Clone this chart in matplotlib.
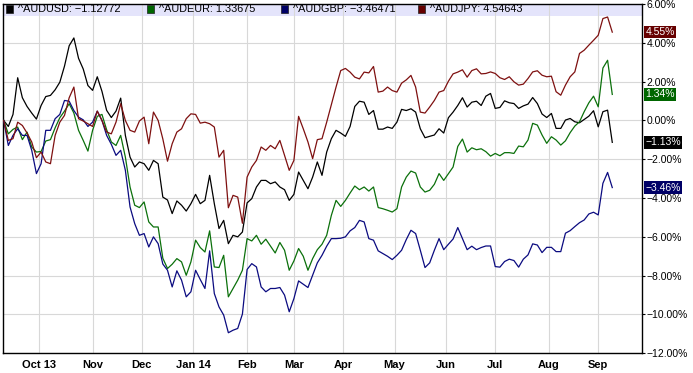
import matplotlib
matplotlib.use("Agg")
import matplotlib.pyplot as plt
import matplotlib.transforms as mtransforms
from matplotlib.patches import Rectangle
import numpy as np
import pandas as pd

plt.rcParams['font.family'] = ['Liberation Sans', 'DejaVu Sans']

# ---------------- data (percent change, sampled every 2 trading days) ----------------
start_date = '2013-09-10'
n_days = 261
step = 2

audusd = [0.00, -0.31, 0.31, 2.20, 1.17, 0.72, 0.38, 0.07, 0.77, 1.23, 1.29, 1.58, 1.97, 2.80, 3.85,
          4.25, 3.20, 2.65, 1.80, 1.55, 2.25, 1.50, 0.52, 0.15, 0.48, 1.15, -0.77, -1.89, -2.40, -2.14,
          -2.23, -2.57, -2.06, -2.23, -3.95,
          -4.10, -4.80, -4.15, -4.37, -4.67, -4.29, -3.81, -4.29, -4.12, -2.83, -4.29, -5.57, -5.15,
          -6.35, -5.92, -6.00, -5.75, -4.25, -4.03, -3.43, -3.09, -3.09, -3.26, -3.17, -3.43, -3.57,
          -4.12, -3.81, -2.66, -3.09, -3.52, -2.92, -2.14, -2.83,
          -1.63, -0.94, -0.51, -0.65, -0.82, -0.31, 0.72, 0.99, 0.94, 0.31, 0.51, -0.45, -0.45, -0.34,
          -0.41, -0.09, 0.57, 0.51, 0.60, 0.43, -0.43, -0.89, -0.82, -0.75, -0.43, -0.65, 0.14, 0.43,
          0.77, 1.17, 0.69, 0.94, 0.99, 0.77,
          1.25, 1.39, 0.62, 0.67, 1.01, 0.91, 0.87, 0.62, 0.75, 0.84, 1.18, 0.87, 0.33, 0.15, 0.36,
          -0.41, -0.41, 0.02, 0.10, -0.07, -0.12, 0.05, 0.22, 0.50, -0.33, 0.45, 0.53, -1.13]

audeur = [0.00, -0.69, -0.46, -0.34, -0.99, -0.60, -1.37, -1.63, -1.60, -1.06, -0.99, -0.38, 0.14,
          0.48, 0.86, 0.38, -0.51, -1.03, -1.58, -0.51, 0.21, 0.31, -0.48, -1.11, -1.29, -0.77, -1.89,
          -3.43, -4.37, -4.49, -4.20, -5.23, -5.49, -5.49, -7.10,
          -7.63, -7.41, -7.12, -7.29, -7.98, -7.29, -6.17, -6.55, -6.78, -5.69, -7.55, -7.58, -6.95,
          -9.09, -8.66, -8.23, -7.72, -6.09, -6.21, -5.92, -6.38, -6.12, -6.48, -6.83, -6.29, -6.69,
          -7.72, -7.24, -6.60, -7.00, -7.72, -7.12, -6.66, -6.38,
          -5.92, -4.89, -4.12, -4.43, -4.12, -3.74, -3.38, -3.57, -3.43, -3.64, -3.43, -4.49, -4.55,
          -4.63, -4.72, -4.55, -3.43, -2.92, -2.61, -2.71, -3.43, -3.69, -3.60, -3.29, -2.74, -3.09,
          -2.74, -2.40, -1.34, -0.96, -1.63, -1.41, -1.51, -1.46,
          -1.61, -1.84, -1.70, -1.82, -1.66, -1.66, -1.70, -1.32, -1.36, -1.01, -0.15, -0.24, -0.75,
          -1.18, -0.84, -1.01, -1.27, -1.05, -0.63, -0.29, -0.07, 0.45, 0.91, 1.25, 0.70, 2.70, 3.10, 1.34]

audgbp = [0.00, -1.29, -0.77, -0.43, -0.77, -0.77, -1.54, -2.74, -2.23, -0.51, -0.51, 0.09, 0.31,
          1.03, 0.99, 0.51, 0.17, 0.03, -0.31, -0.09, 0.48, 0.00, -0.77, -1.23, -1.80, -1.54, -2.57,
          -4.46, -5.32, -5.92, -5.83, -6.52, -6.00, -6.35, -7.40,
          -7.72, -8.58, -7.75, -8.23, -9.09, -8.83, -7.72, -8.20, -8.66, -6.72, -8.92, -9.61, -10.03,
          -10.94, -10.81, -10.72, -9.98, -7.68, -7.38, -7.55, -8.58, -8.83, -8.66, -8.66, -8.61, -9.00,
          -9.86, -9.18, -8.27, -8.44, -8.61, -7.98, -7.34, -6.95,
          -6.48, -6.09, -6.09, -6.07, -6.00, -5.69, -5.52, -5.15, -5.23, -6.09, -6.17, -6.72, -6.86,
          -7.00, -7.17, -6.95, -6.69, -6.14, -5.66, -5.83, -6.69, -7.58, -7.34, -6.69, -6.09, -6.66,
          -6.38, -6.11, -5.52, -6.09, -6.66, -6.48, -6.66, -6.55,
          -6.47, -6.47, -7.53, -7.56, -7.27, -7.15, -7.22, -7.56, -7.15, -6.93, -6.36, -6.42, -6.81,
          -6.54, -6.54, -6.76, -6.76, -5.81, -5.68, -5.47, -5.27, -5.13, -4.82, -4.73, -4.87, -3.24,
          -2.68, -3.46]

audjpy = [0.00, -1.03, -0.94, -0.09, -0.26, -0.65, -1.11, -1.92, -1.63, -2.14, -2.23, -0.77, -0.09,
          0.26, 1.17, 1.72, 0.09, -0.03, -0.17, -0.31, 0.48, 0.00, -0.60, -0.69, -0.09, 0.86, 0.00,
          -0.51, -0.60, -0.03, 0.17, -1.20, 0.43, 0.00, -0.95,
          -2.10, -1.20, -0.60, -0.43, 0.09, 0.34, 0.31, -0.14, -0.09, -0.17, -0.34, -1.89, -1.54,
          -4.50, -3.86, -3.95, -5.30, -2.92, -2.40, -2.06, -1.37, -1.54, -1.29, -1.46, -1.03, -1.80,
          -2.57, -2.06, 0.21, -0.43, -1.11, -1.97, -0.99, -0.94,
          -0.09, 0.82, 1.72, 2.57, 2.68, 2.49, 2.23, 2.14, 2.49, 2.45, 2.78, 1.46, 1.51, 1.72, 1.54,
          1.46, 1.92, 2.09, 2.32, 1.72, 0.43, 0.38, 0.69, 1.03, 1.46, 1.54, 2.02, 2.40, 2.49, 2.61,
          2.23, 2.57, 2.66, 2.40,
          2.42, 2.50, 2.42, 2.20, 2.11, 2.25, 1.99, 1.82, 1.87, 2.16, 2.50, 2.56, 2.33, 2.25, 2.28,
          1.48, 1.30, 1.82, 2.25, 2.50, 3.45, 3.62, 3.88, 4.13, 4.39, 5.25, 5.33, 4.55]

symbols = ['^AUDUSD', '^AUDEUR', '^AUDGBP', '^AUDJPY']
legend_values = [-1.12772, 1.33675, -3.46471, 4.54643]
series = [audusd, audeur, audgbp, audjpy]
line_colors = ['#000000', '#0b700b', '#0b0b80', '#7e1010']
box_colors = ['#000000', '#006600', '#000066', '#660000']

month_labels = ['Oct 13', 'Nov', 'Dec', 'Jan 14', 'Feb', 'Mar', 'Apr', 'May', 'Jun', 'Jul', 'Aug', 'Sep']
y_ticks = [-12, -10, -8, -6, -4, -2, 0, 2, 4, 6]


def fmt_pct(v):
    s = f"{v:.2f}%"
    return s.replace('-', '\u2212')


def fmt_num(v):
    return f"{v}".replace('-', '\u2212')


# ---------------- figure ----------------
W, H = 693, 373
fig = plt.figure(figsize=(W / 100, H / 100), dpi=100)
ax_left, ax_right, ax_top, ax_bottom = 2.7, 642.0, 4.0, 353.3
ax = fig.add_axes([ax_left / W, 1 - ax_bottom / H, (ax_right - ax_left) / W, (ax_bottom - ax_top) / H])

days = pd.bdate_range(start_date, periods=n_days)
x_all = np.arange(n_days)
x = x_all[::step][:len(audusd)]

# month ticks: first business day of each month
month_start_idx = [i for i in range(1, n_days) if days[i].month != days[i - 1].month]
month_start_idx = month_start_idx[:len(month_labels)]

ax.set_ylim(-12, 6)
ax.set_xlim(-0.4, 272.7)

# legend band at top
band_h = 11.7 / (ax_bottom - ax_top)
ax.add_patch(Rectangle((0, 1 - band_h), 1, band_h,
                       transform=ax.transAxes, facecolor='#e4e4fb', edgecolor='none', zorder=0.2))

ax.set_axisbelow(True)
ax.grid(True, color='#d8d8d8', linewidth=0.8)

for vals, c in zip(series, line_colors):
    ax.plot(x, vals, color=c, linewidth=0.9, zorder=3)

ax.set_xticks(month_start_idx)
ax.set_xticklabels(month_labels, fontweight='bold', fontsize=8)
ax.tick_params(axis='x', length=0, pad=4.5)

ax.yaxis.tick_right()
ax.set_yticks(y_ticks)
ax.set_yticklabels([fmt_pct(v) for v in y_ticks], fontsize=7.5)
ax.tick_params(axis='y', length=2.5, width=0.8, pad=1.0, direction='out')

for sp in ax.spines.values():
    sp.set_color('black')
    sp.set_linewidth(1.0)

# last-value boxes on the right
trans = mtransforms.blended_transform_factory(ax.transAxes, ax.transData)
for vals, bc in zip(series, box_colors):
    ax.text(1.0055, vals[-1], fmt_pct(vals[-1]), transform=trans, ha='left', va='center',
            fontsize=7.5, color='white', clip_on=False,
            bbox=dict(boxstyle='square,pad=0.12', facecolor=bc, edgecolor='none'))

# legend entries
leg_x = [6, 147, 281, 418]
for lx, sym, lv, bc in zip(leg_x, symbols, legend_values, box_colors):
    fig.patches.append(Rectangle((lx / W, 1 - 12.5 / H), 7 / W, 7.5 / H, transform=fig.transFigure,
                                 facecolor=bc, edgecolor='#202020', linewidth=0.5))
    fig.text((lx + 12) / W, 1 - 8.8 / H, f"{sym}: {fmt_num(lv)}", fontsize=7.8, ha='left', va='center')

fig.savefig('out.png', dpi=100)
